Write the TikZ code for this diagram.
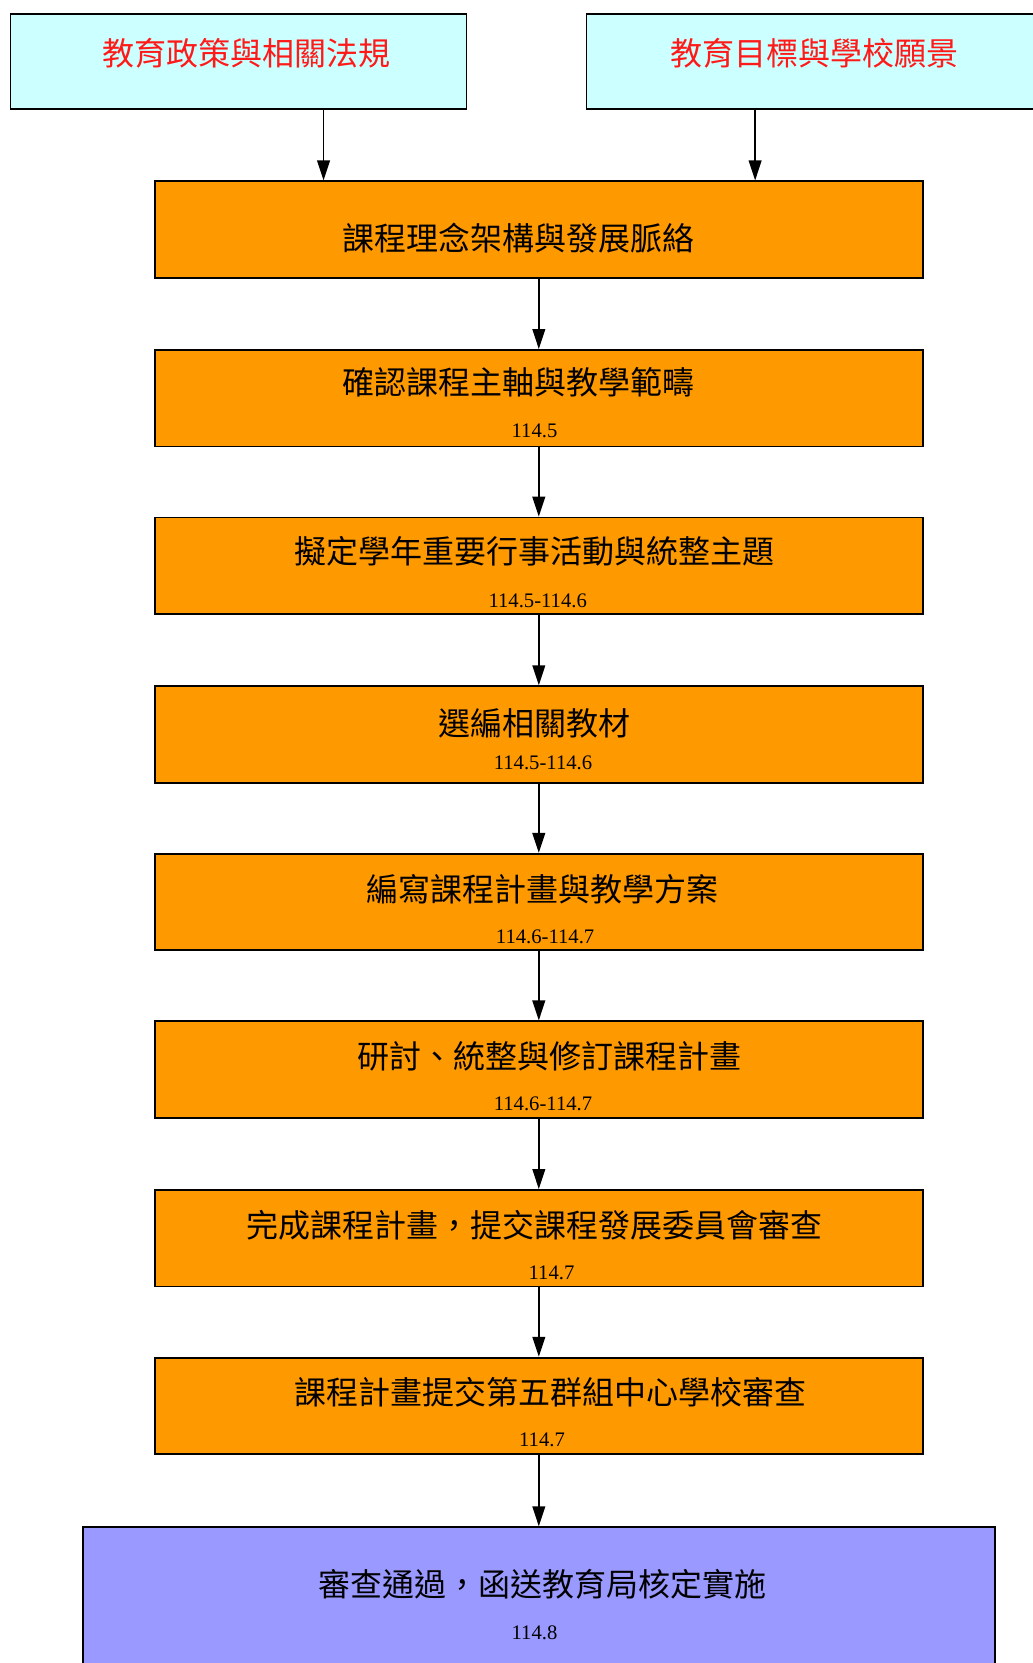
\documentclass[tikz,border=0pt]{standalone}
\usepackage{fontspec}
\setmainfont{Liberation Serif}
\newfontfamily\cjk{Noto Sans CJK TC}
\usetikzlibrary{arrows.meta}
\definecolor{topcyan}{HTML}{CCFFFF}
\definecolor{steporange}{HTML}{FF9900}
\definecolor{endblue}{HTML}{9999FF}
\definecolor{titlered}{HTML}{FF1A1A}

\begin{document}
\begin{tikzpicture}[x=0.75pt,y=-0.75pt,
  topbox/.style={draw,line width=1.3pt,fill=topcyan,inner sep=0pt,
    minimum width=342pt,minimum height=71.6pt},
  stepbox/.style={draw,line width=1.3pt,fill=steporange,inner sep=0pt,
    minimum width=576pt,minimum height=72.4pt},
  endbox/.style={draw,line width=1.3pt,fill=endblue,inner sep=0pt,
    minimum width=684pt,minimum height=150pt},
  title/.style={inner sep=0pt,font=\cjk\fontsize{24pt}{28pt}\selectfont},
  datetext/.style={inner sep=0pt,font=\fontsize{15.5pt}{18pt}\selectfont},
  arr/.style={line width=1.4pt,-{Triangle[length=15pt,width=9.5pt]}}]
  \useasboundingbox (0,0) rectangle (1032,1663);

  % sources
  \node[topbox] (tl) at (238.6,61.5) {};
  \node[topbox] (tr) at (814.6,61.5) {};
  \node[title,text=titlered] (tlt) at (246,53) {教育政策與相關法規};
  \node[title,text=titlered] (trt) at (814.6,53) {教育目標與學校願景};

  % steps
  \node[stepbox] (b1) at (538.8,229.6) {};
  \node[stepbox] (b2) at (538.8,398.2) {};
  \node[stepbox] (b3) at (538.8,565.8) {};
  \node[stepbox] (b4) at (538.8,734.4) {};
  \node[stepbox] (b5) at (538.8,902.0) {};
  \node[stepbox] (b6) at (538.8,1069.6) {};
  \node[stepbox] (b7) at (538.8,1238.2) {};
  \node[stepbox] (b8) at (538.8,1405.9) {};
  \node[endbox,anchor=north] (b9) at (538.8,1526.3) {};

  \node[title] (b1t) at (518.7,238.6) {課程理念架構與發展脈絡};
  \node[title] (b2t) at (518.7,381.8) {確認課程主軸與教學範疇};
  \node[datetext] (b2d) at (534.5,430.6) {114.5};
  \node[title] (b3t) at (534.5,551.5) {擬定學年重要行事活動與統整主題};
  \node[datetext] (b3d) at (537.7,600.3) {114.5-114.6};
  \node[title] (b4t) at (534.5,723.3) {選編相關教材};
  \node[datetext] (b4d) at (543.0,762.6) {114.5-114.6};
  \node[title] (b5t) at (542.5,888.8) {編寫課程計畫與教學方案};
  \node[datetext] (b5d) at (545.1,936.5) {114.6-114.7};
  \node[title] (b6t) at (549.9,1056.4) {研討、統整與修訂課程計畫};
  \node[datetext] (b6d) at (543.0,1104.1) {114.6-114.7};
  \node[title] (b7t) at (534.0,1225.0) {完成課程計畫，提交課程發展委員會審查};
  \node[datetext] (b7d) at (551.5,1272.7) {114.7};
  \node[title] (b8t) at (550.5,1392.6) {課程計畫提交第五群組中心學校審查};
  \node[datetext] (b8d) at (542.0,1440.3) {114.7};
  \node[title] (b9t) at (542.0,1584.5) {審查通過，函送教育局核定實施};
  \node[datetext] (b9d) at (534.5,1632.3) {114.8};

  % connectors
  \draw[arr] ([xshift=63.7pt]tl.south) -- ([xshift=63.7pt]tl.south |- b1.north);
  \draw[arr] ([xshift=-44.6pt]tr.south) -- ([xshift=-44.6pt]tr.south |- b1.north);
  \foreach \a/\b in {b1/b2,b2/b3,b3/b4,b4/b5,b5/b6,b6/b7,b7/b8,b8/b9}
    \draw[arr] (\a.south) -- (\b.north);
\end{tikzpicture}
\end{document}
